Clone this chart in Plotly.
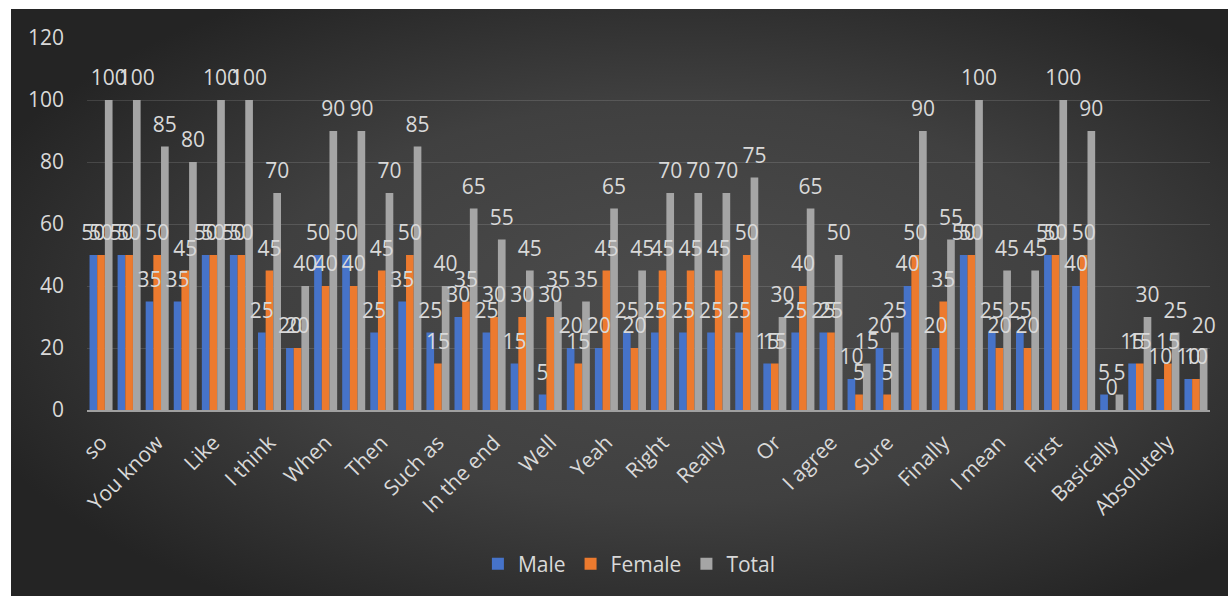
import base64
import plotly.graph_objects as go

# ---- data ----
tick_labels = ["so", "You know", "Like", "I think", "When", "Then", "Such as",
               "In the end", "Well", "Yeah", "Right", "Really", "Or", "I agree",
               "Sure", "Finally", "I mean", "First", "Basically", "Absolutely"]

male = [50, 50, 35, 35, 50, 50, 25, 20, 50, 50, 25, 35, 25, 30, 25, 15, 5, 20, 20, 25,
        25, 25, 25, 25, 15, 25, 25, 10, 20, 40, 20, 50, 25, 25, 50, 40, 5, 15, 10, 10]
female = [50, 50, 50, 45, 50, 50, 45, 20, 40, 40, 45, 50, 15, 35, 30, 30, 30, 15, 45, 20,
          45, 45, 45, 50, 15, 40, 25, 5, 5, 50, 35, 50, 20, 20, 50, 50, 0, 15, 15, 10]
total = [100, 100, 85, 80, 100, 100, 70, 40, 90, 90, 70, 85, 40, 65, 55, 45, 35, 35, 65, 45,
         70, 70, 70, 75, 30, 65, 50, 15, 25, 90, 55, 100, 45, 45, 100, 90, 5, 30, 25, 20]

series_names = ["Male", "Female", "Total"]
series_values = [male, female, total]
series_colors = ["#4673C9", "#EC7A2E", "#A5A5A5"]

n = len(total)
x_idx = list(range(n))
tick_vals = x_idx[::2]

FS = 21
BARGAP = 0.18

# ---- figure ----
fig = go.Figure()
for name, vals, col in zip(series_names, series_values, series_colors):
    fig.add_trace(go.Bar(
        x=x_idx, y=vals, name=name, offsetgroup=name, alignmentgroup="a",
        marker=dict(color=col, line=dict(width=0)),
    ))
# data labels, aligned with the grouped bars
for name, vals in zip(series_names, series_values):
    fig.add_trace(go.Scatter(
        x=x_idx, y=vals, mode="markers+text", offsetgroup=name, alignmentgroup="a",
        marker=dict(size=14, opacity=0), text=vals, textposition="top center",
        textfont=dict(color="#D9D9D9", size=FS, family="Open Sans"),
        showlegend=False, hoverinfo="skip", cliponaxis=False,
    ))

# background radial gradient (Excel dark style)
W, H = 1217, 587
svg = f'''<svg xmlns="http://www.w3.org/2000/svg" width="{W}" height="{H}" viewBox="0 0 {W} {H}" preserveAspectRatio="none">
<defs><radialGradient id="g" cx="0.55" cy="0.5" r="0.62">
<stop offset="0" stop-color="#4C4C4C"/><stop offset="0.55" stop-color="#404040"/><stop offset="1" stop-color="#242424"/></radialGradient></defs>
<rect x="0" y="0" width="{W}" height="{H}" fill="url(#g)"/></svg>'''
src = "data:image/svg+xml;base64," + base64.b64encode(svg.encode()).decode()

L, T, PW, PH = 87, 38, 1123, 372
fig.add_layout_image(dict(
    source=src, xref="paper", yref="paper",
    x=(11 - L) / PW, y=(T + PH - 9) / PH,
    sizex=W / PW, sizey=H / PH,
    xanchor="left", yanchor="top", sizing="stretch", layer="below",
))

fig.update_layout(
    width=1230, height=598,
    margin=dict(l=L, r=1230 - L - PW, t=T, b=598 - T - PH, pad=0),
    paper_bgcolor="white", plot_bgcolor="rgba(0,0,0,0)",
    barmode="group", bargap=BARGAP, bargroupgap=0,
    scattermode="group", scattergap=BARGAP,
    font=dict(family="Open Sans", color="#D9D9D9", size=FS),
    showlegend=True,
    legend=dict(orientation="h", x=0.483, xanchor="center", y=-0.414, yanchor="middle",
                font=dict(size=FS, color="#D9D9D9"), bgcolor="rgba(0,0,0,0)",
                traceorder="normal", itemwidth=30),
)
fig.update_xaxes(
    range=[-0.5, n - 0.5], tickmode="array", tickvals=tick_vals, ticktext=tick_labels,
    tickangle=-45, showgrid=False, zeroline=False, ticks="",
    showline=True, linecolor="#A0A0A0", linewidth=2,
    tickfont=dict(size=FS, color="#D9D9D9"), ticklabelstandoff=10,
)
fig.update_yaxes(
    range=[0, 120], dtick=20, showgrid=True, gridcolor="rgba(255,255,255,0.13)", gridwidth=1,
    zeroline=False, showline=False, ticks="",
    tickfont=dict(size=FS, color="#D9D9D9"), ticklabelstandoff=22,
)

fig.write_html("out.html")
